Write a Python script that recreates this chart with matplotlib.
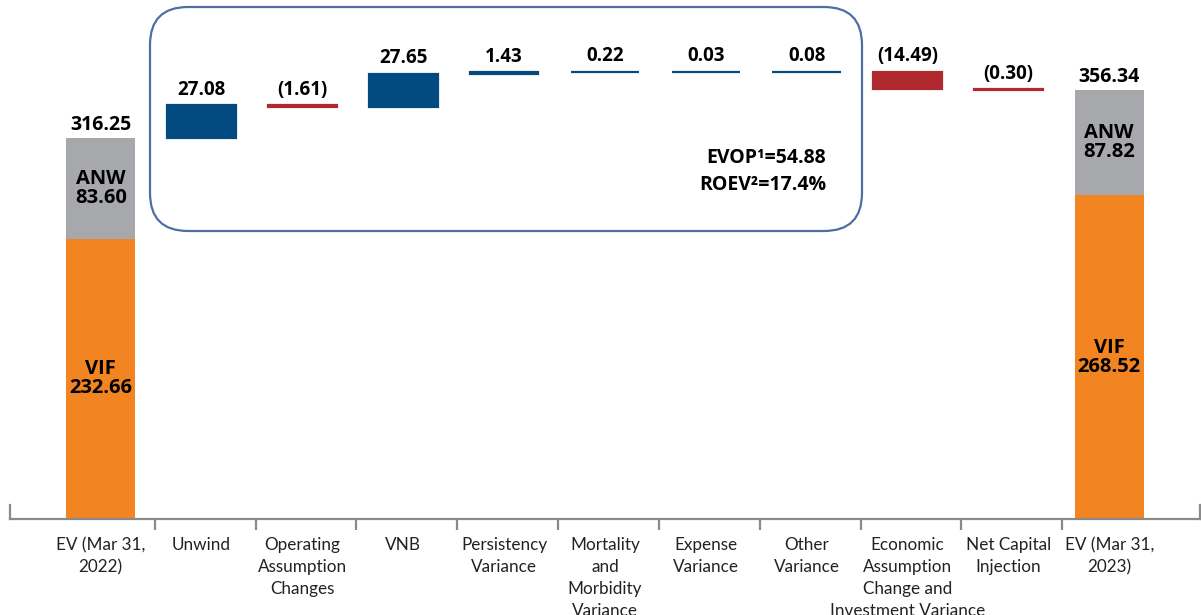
import numpy as np
import matplotlib
matplotlib.use("Agg")
import matplotlib.pyplot as plt
from matplotlib.patches import FancyBboxPatch

# data
categories = ["EV (Mar 31,\n2022)", "Unwind", "Operating\nAssumption\nChanges", "VNB",
              "Persistency\nVariance", "Mortality\nand\nMorbidity\nVariance",
              "Expense\nVariance", "Other\nVariance",
              "Economic\nAssumption\nChange and\nInvestment Variance",
              "Net Capital\nInjection", "EV (Mar 31,\n2023)"]
start_vif = 232.66
start_anw = 83.60
start_ev = 316.25
changes = [27.08, -1.61, 27.65, 1.43, 0.22, 0.03, 0.08, -14.49, -0.30]
end_vif = 268.52
end_anw = 87.82
end_ev = 356.34
evop = 54.88
roev = 17.4

BLUE = "#034a80"
RED = "#b0292f"
ORANGE = "#f28422"
GREY = "#a7a8ab"
AXIS = "#8a8a8a"
VAL_FONT = "Open Sans"
LAB_FONT = "Lato"

fig = plt.figure(figsize=(12.01, 6.15), dpi=100)
ax = fig.add_axes([10 / 1201, 96 / 615, 1190 / 1201, 519 / 615])
ax.set_xlim(-0.9, 10.9)
ax.set_ylim(0, 430.7)

w = 0.68
n = len(categories)
x = np.arange(n)

# start and end stacked bars
for xi, vif, anw, ev in [(x[0], start_vif, start_anw, start_ev), (x[-1], end_vif, end_anw, end_ev)]:
    ax.bar(xi, vif, width=w, color=ORANGE, zorder=2)
    ax.bar(xi, anw, bottom=vif, width=w, color=GREY, zorder=2)
    ax.text(xi, vif / 2, "VIF\n%.2f" % vif, ha="center", va="center", fontsize=14.5,
            fontweight="bold", family=VAL_FONT, linespacing=0.95)
    ax.text(xi, vif + anw / 2, "ANW\n%.2f" % anw, ha="center", va="center", fontsize=14.5,
            fontweight="bold", family=VAL_FONT, linespacing=0.95)
    ax.annotate("%.2f" % ev, (xi, ev), xytext=(0, 2), textcoords="offset points",
                ha="center", va="bottom", fontsize=14, fontweight="bold", family=VAL_FONT)

# floating change bars
level = start_ev
for i, c in enumerate(changes):
    xi = x[i + 1]
    col = BLUE if c >= 0 else RED
    bottom = level if c >= 0 else level + c
    ax.bar(xi, abs(c), bottom=bottom, width=w, color=col, edgecolor=col, linewidth=1.6, zorder=2)
    top = bottom + abs(c)
    txt = "%.2f" % c if c >= 0 else "(%.2f)" % abs(c)
    ax.annotate(txt, (xi, top), xytext=(0, 4), textcoords="offset points",
                ha="center", va="bottom", fontsize=13.5, fontweight="bold", family=VAL_FONT)
    level += c

# axis styling
ax.spines["top"].set_visible(False)
for s in ["bottom", "left", "right"]:
    ax.spines[s].set_color(AXIS)
    ax.spines[s].set_linewidth(1.6)
for s in ["left", "right"]:
    ax.spines[s].set_bounds(0, 11.5)
ax.set_yticks([])
ax.set_xticks(x)
ax.set_xticklabels(categories, fontsize=12.3, family=LAB_FONT, color="#222222", linespacing=1.45)
ax.tick_params(axis="x", which="major", length=0, pad=13)
ax.set_xticks(np.arange(n - 1) + 0.535, minor=True)
ax.tick_params(axis="x", which="minor", length=8, width=1.6, color=AXIS, direction="out")
ax.patch.set_alpha(0)

# rounded box around operating items
box = FancyBboxPatch((1.50 + 0.35, 3.84 + 0.35), 8.62 - 1.50 - 0.7, 6.08 - 3.84 - 0.7,
                     boxstyle="round,pad=0.35,rounding_size=0.38",
                     transform=fig.dpi_scale_trans, fill=False, edgecolor="#4f6fa3",
                     linewidth=1.6, zorder=5)
fig.patches.append(box)

fig.text(826 / 1201, 1 - 158 / 615, "EVOP\u00b9=%.2f" % evop, ha="right", va="center",
         fontsize=14, fontweight="bold", family=VAL_FONT)
fig.text(826 / 1201, 1 - 185 / 615, "ROEV\u00b2=%.1f%%" % roev, ha="right", va="center",
         fontsize=14, fontweight="bold", family=VAL_FONT)

fig.savefig("out.png", dpi=100)
